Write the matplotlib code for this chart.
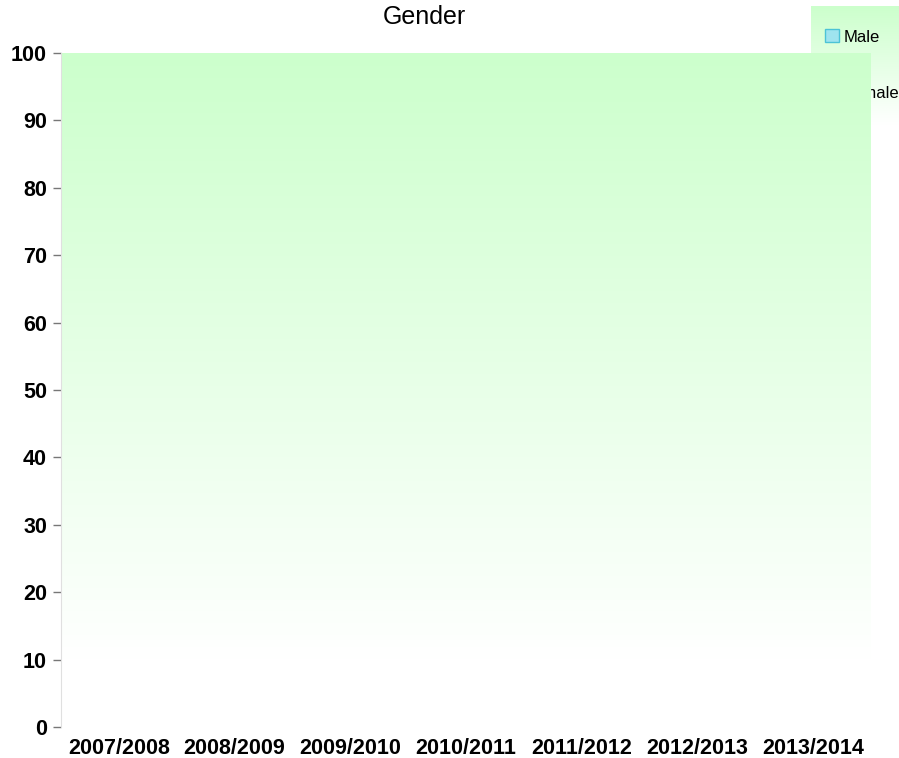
import numpy as np
import matplotlib
matplotlib.use("Agg")
import matplotlib.pyplot as plt
from matplotlib.patches import Patch
from matplotlib.colors import LinearSegmentedColormap

plt.rcParams['font.family'] = ['Liberation Sans', 'DejaVu Sans']

# data (no bars are visible in the reference, values read as 0)
years = ['2007/2008', '2008/2009', '2009/2010', '2010/2011',
         '2011/2012', '2012/2013', '2013/2014']
male = [0, 0, 0, 0, 0, 0, 0]
female = [0, 0, 0, 0, 0, 0, 0]
y_ticks = [0, 10, 20, 30, 40, 50, 60, 70, 80, 90, 100]

W, H = 899, 758
fig = plt.figure(figsize=(W / 100, H / 100), dpi=100)

green = LinearSegmentedColormap.from_list('g', ['#ffffff', '#ccffcc'])
grad = np.linspace(0, 1, 256).reshape(-1, 1)

# legend box (sits underneath the plot area)
lax = fig.add_axes([811 / W, 1 - 125 / H, 100 / W, 119 / H], zorder=-3)
lax.imshow(grad, aspect='auto', cmap=green, origin='lower', extent=[0, 1, 0, 1])
lax.set_axis_off()

handles = [Patch(facecolor='#9fe4ef', edgecolor='#4cc3d6', label='Male'),
           Patch(facecolor='#f4b6c6', edgecolor='#d87a93', label='Female')]
leg = fig.legend(handles=handles, loc='upper left', bbox_to_anchor=(817 / W, 1 - 21 / H),
                 frameon=False, fontsize=12, handlelength=0.8, handleheight=0.8,
                 handletextpad=0.3, labelspacing=2.45, borderpad=0)
leg.set_zorder(-2)

# plot area
ax = fig.add_axes([61 / W, 1 - 727 / H, 810 / W, 674 / H], zorder=0)
ax.patch.set_alpha(0)
x = np.arange(len(years))
ax.set_xlim(-0.5, len(years) - 0.5)
ax.set_ylim(0, 100)
ax.imshow(grad, aspect='auto', cmap=green, origin='lower',
          extent=[-0.5, len(years) - 0.5, 10, 100], zorder=0)
ax.bar(x - 0.2, male, width=0.4, color='#9fe4ef', zorder=1)
ax.bar(x + 0.2, female, width=0.4, color='#f4b6c6', zorder=1)

ax.set_xticks(x)
ax.set_xticklabels(years, fontsize=15.5, fontweight='bold')
ax.set_yticks(y_ticks)
ax.set_yticklabels([str(v) for v in y_ticks], fontsize=15.5, fontweight='bold')
ax.tick_params(axis='x', length=0, pad=8)
ax.tick_params(axis='y', length=6, width=1, color='#777777', pad=4)
for s in ['top', 'right', 'bottom']:
    ax.spines[s].set_visible(False)
ax.spines['left'].set_color('#e0e0e0')

fig.text(424 / W, 1 - 17 / H, 'Gender', ha='center', va='center', fontsize=18)

fig.savefig('out.png', dpi=100)
